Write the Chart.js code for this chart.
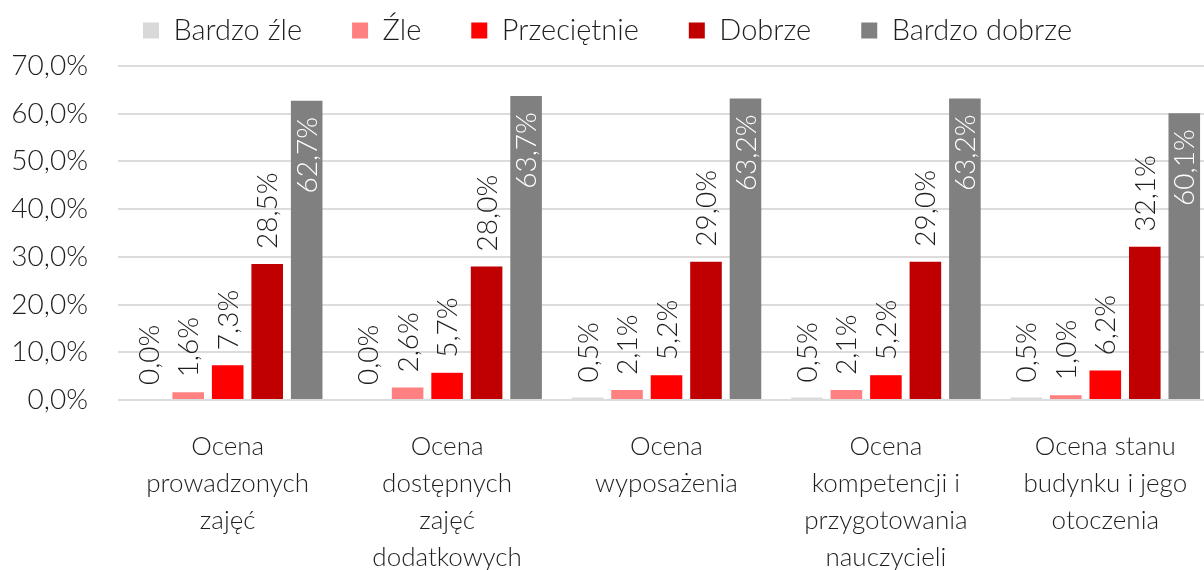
<!DOCTYPE html>
<html lang="pl">
<head>
<meta charset="utf-8">
<title>Ocena szkoły</title>
<script src="https://cdn.jsdelivr.net/npm/chart.js@4/dist/chart.umd.min.js"></script>
<style>
  html, body { margin: 0; padding: 0; background: #fff; overflow: hidden; }
  /* the original plot runs a little past the right edge of the picture */
  #wrap { width: 1215px; height: 570px; position: relative; }
</style>
</head>
<body>
<div id="wrap"><canvas id="chart"></canvas></div>
<script>
// Categories (multi-line labels as in the original)
const categories = [
  ["Ocena", "prowadzonych", "zajęć"],
  ["Ocena", "dostępnych", "zajęć", "dodatkowych"],
  ["Ocena", "wyposażenia"],
  ["Ocena", "kompetencji i", "przygotowania", "nauczycieli"],
  ["Ocena stanu", "budynku i jego", "otoczenia"]
];

// Series values, in percent
const bardzoZle = [0.0, 0.0, 0.5, 0.5, 0.5];
const zle = [1.6, 2.6, 2.1, 2.1, 1.0];
const przecietnie = [7.3, 5.7, 5.2, 5.2, 6.2];
const dobrze = [28.5, 28.0, 29.0, 29.0, 32.1];
const bardzoDobrze = [62.7, 63.7, 63.2, 63.2, 60.1];

const seriesNames = ["Bardzo źle", "Źle", "Przeciętnie", "Dobrze", "Bardzo dobrze"];
const seriesColors = ["#D9D9D9", "#FF8080", "#FF0000", "#C00000", "#808080"];

// Y axis ticks
const yTicks = [0, 10, 20, 30, 40, 50, 60, 70];

const FONT = "Lato, 'Open Sans', sans-serif";
const TEXT = "#1f1f1f";
const fmt = v => v.toFixed(1).replace(".", ",") + "%";

// Rotated value labels above bars (inside the top for the last series)
const valueLabels = {
  id: "valueLabels",
  afterDatasetsDraw(chart) {
    const ctx = chart.ctx;
    const last = chart.data.datasets.length - 1;
    chart.data.datasets.forEach((ds, i) => {
      const meta = chart.getDatasetMeta(i);
      meta.data.forEach((bar, j) => {
        ctx.save();
        ctx.translate(bar.x, bar.y);
        ctx.rotate(-Math.PI / 2);
        ctx.font = "300 28px " + FONT;
        ctx.textBaseline = "middle";
        if (i === last) {
          ctx.fillStyle = "#ffffff";
          ctx.textAlign = "right";
          ctx.fillText(fmt(ds.data[j]), -16, 1);
        } else {
          ctx.fillStyle = TEXT;
          ctx.textAlign = "left";
          ctx.fillText(fmt(ds.data[j]), 15, 1);
        }
        ctx.restore();
      });
    });
  }
};

// Legend keeps wide item spacing but gets a fixed height,
// so the plot area starts where it does in the original
const legendHeight = {
  id: "legendHeight",
  beforeLayout(chart) {
    const lg = chart.legend;
    if (lg && !lg.fitWrapped) {
      const fit = lg.fit;
      lg.fit = function () { fit.call(this); this.height = 100; };
      lg.fitWrapped = true;
    }
  }
};

const allSeries = [bardzoZle, zle, przecietnie, dobrze, bardzoDobrze];

new Chart(document.getElementById("chart"), {
  type: "bar",
  data: {
    labels: categories,
    datasets: allSeries.map((vals, i) => ({
      label: seriesNames[i],
      data: vals,
      backgroundColor: seriesColors[i],
      borderWidth: 0,
      barPercentage: 0.8,
      categoryPercentage: 0.9
    }))
  },
  options: {
    responsive: true,
    maintainAspectRatio: false,
    animation: false,
    layout: { padding: { left: 0, right: 0, top: -34, bottom: 0 } },
    plugins: {
      tooltip: { enabled: false },
      legend: {
        position: "top",
        labels: {
          boxWidth: 16,
          boxHeight: 16,
          padding: 50,
          color: TEXT,
          font: { family: FONT, size: 29, weight: "300" }
        }
      }
    },
    scales: {
      x: {
        grid: { display: false },
        border: { display: false },
        ticks: {
          maxRotation: 0,
          minRotation: 0,
          autoSkip: false,
          padding: 20,
          color: TEXT,
          font: { family: FONT, size: 26, weight: "300", lineHeight: 1.42 }
        },
        afterFit(scale) { scale.height = 170; }
      },
      y: {
        min: 0,
        max: 70,
        afterBuildTicks(scale) { scale.ticks = yTicks.map(v => ({ value: v })); },
        grid: { color: "#DCDCDC", lineWidth: 2, drawTicks: false },
        border: { display: false },
        ticks: {
          padding: 30,
          color: TEXT,
          font: { family: FONT, size: 28, weight: "300" },
          callback: v => fmt(v)
        },
        afterFit(scale) { scale.width = 118; }
      }
    }
  },
  plugins: [valueLabels, legendHeight]
});
</script>
</body>
</html>
